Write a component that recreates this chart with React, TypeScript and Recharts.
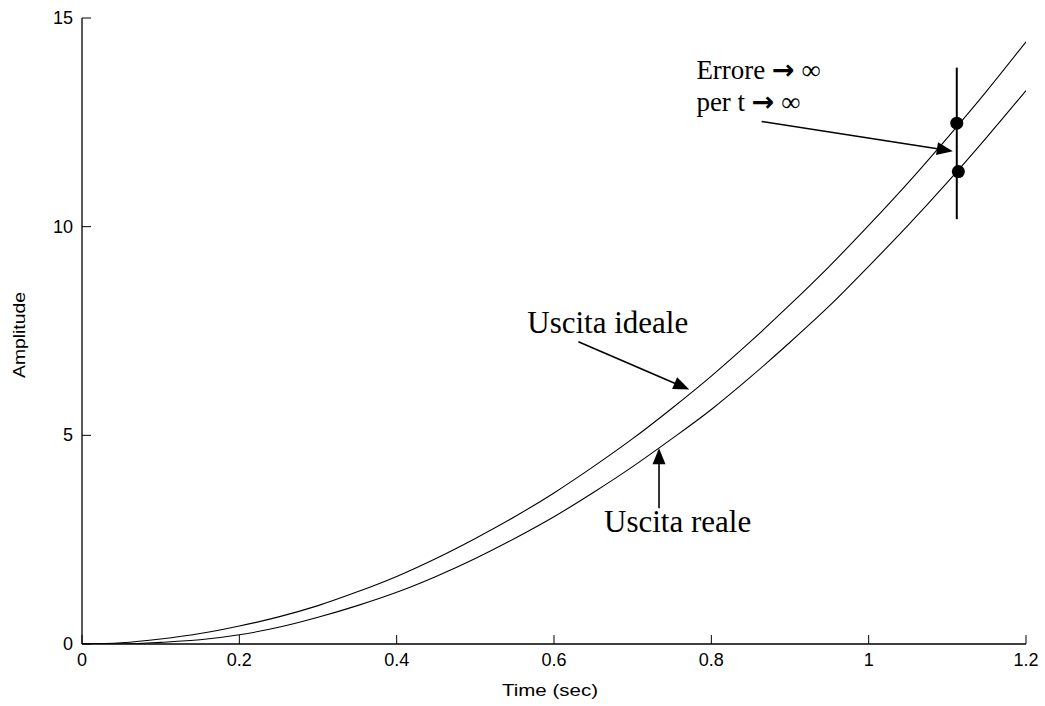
import React from 'react';
import { LineChart, Line, XAxis, YAxis, ReferenceLine, ReferenceDot } from 'recharts';

const times = [0, 0.05, 0.1, 0.15, 0.2, 0.25, 0.3, 0.35, 0.4, 0.45, 0.5, 0.55, 0.6, 0.65, 0.7, 0.75, 0.8, 0.85, 0.9, 0.95, 1.0, 1.05, 1.1, 1.15, 1.2];
const idealOut = [0, 0.03, 0.12, 0.25, 0.43, 0.65, 0.92, 1.25, 1.62, 2.05, 2.53, 3.05, 3.62, 4.25, 4.92, 5.65, 6.42, 7.25, 8.13, 9.05, 10.03, 11.05, 12.13, 13.25, 14.43];
const realOut = [0, 0.0, 0.04, 0.1, 0.22, 0.4, 0.64, 0.92, 1.24, 1.62, 2.05, 2.53, 3.05, 3.63, 4.25, 4.92, 5.62, 6.4, 7.23, 8.1, 9.05, 10.03, 11.06, 12.14, 13.26];

const xTicks = [0, 0.2, 0.4, 0.6, 0.8, 1, 1.2];
const yTicks = [0, 5, 10, 15];

const xLabel = 'Time (sec)';
const yLabel = 'Amplitude';

// annotation anchors (data coordinates)
const errorTime = 1.112;
const errorIdeal = 12.48;
const errorReal = 11.32;
const errorBar = [13.81, 10.18];

const data = times.map((t, i) => ({ t, ideal: idealOut[i], real: realOut[i] }));

const SANS = 'Liberation Sans, Arial, sans-serif';
const SERIF = 'Liberation Serif, Times New Roman, serif';
const TICK = 9;

const BottomTick = (p: any) => (
  <g>
    <line x1={p.x} y1={p.y} x2={p.x} y2={p.y - TICK} stroke="#000" strokeWidth={1} />
    <text x={p.x} y={p.y + 16} textAnchor="middle" dominantBaseline="central" fontFamily={SANS} fontSize={18} fill="#000">
      {String(p.payload.value)}
    </text>
  </g>
);
const TopTick = (p: any) => (
  <line x1={p.x} y1={p.y} x2={p.x} y2={p.y + TICK} stroke="#000" strokeWidth={1} />
);
const LeftTick = (p: any) => (
  <g>
    <line x1={p.x} y1={p.y} x2={p.x + TICK} y2={p.y} stroke="#000" strokeWidth={1} />
    <text x={p.x - 9} y={p.y} textAnchor="end" dominantBaseline="central" fontFamily={SANS} fontSize={18} fill="#000">
      {String(p.payload.value)}
    </text>
  </g>
);
const RightTick = (p: any) => (
  <line x1={p.x} y1={p.y} x2={p.x - TICK} y2={p.y} stroke="#000" strokeWidth={1} />
);

const Arrow = (p: any) => {
  const { x1, y1, x2, y2 } = p;
  const dx = x2 - x1;
  const dy = y2 - y1;
  const len = Math.sqrt(dx * dx + dy * dy) || 1;
  const ux = dx / len;
  const uy = dy / len;
  const hl = 16;
  const hw = 6.5;
  const bx = x2 - ux * hl;
  const by = y2 - uy * hl;
  const pts = `${x2},${y2} ${bx - uy * hw},${by + ux * hw} ${bx + uy * hw},${by - ux * hw}`;
  return (
    <g>
      <line x1={x1} y1={y1} x2={bx + ux * 2} y2={by + uy * 2} stroke="#000" strokeWidth={1.6} />
      <polygon points={pts} fill="#000" />
    </g>
  );
};

const makeText = (content: React.ReactNode, size: number) => (p: any) => (
  <text x={p.cx} y={p.cy} fontFamily={SERIF} fontSize={size} fill="#000" textAnchor="start">
    {content}
  </text>
);

const arrowGlyph = (
  <tspan fontFamily="DejaVu Sans, sans-serif" fontWeight="bold" fontSize={27}>→</tspan>
);

const errText = makeText(
  <>
    <tspan>Errore </tspan>
    {arrowGlyph}
    <tspan> ∞</tspan>
  </>,
  27
);
const perText = makeText(
  <>
    <tspan>per t </tspan>
    {arrowGlyph}
    <tspan> ∞</tspan>
  </>,
  27
);
const idealText = makeText('Uscita ideale', 31);
const realText = makeText('Uscita reale', 31);

export default function App() {
  return (
    <div style={{ position: 'absolute', left: 0, top: 0, width: 1045, height: 706, background: '#fff' }}>
      <LineChart width={1045} height={706} data={data} margin={{ top: 18, right: 19, left: 0, bottom: 0 }}>
        <XAxis
          xAxisId="b"
          dataKey="t"
          type="number"
          domain={[0, 1.2]}
          ticks={xTicks}
          orientation="bottom"
          height={62}
          tickSize={0}
          tickMargin={0}
          tickLine={false}
          tick={<BottomTick />}
          axisLine={{ stroke: '#000', strokeWidth: 1.3 }}
          allowDataOverflow
          interval={0}
          label={{
            content: (lp: any) => {
              const vb = lp.viewBox || { x: 82, y: 644, width: 944, height: 62 };
              return (
                <text x={vb.x + vb.width / 2 - 4} y={vb.y + 46} textAnchor="middle" dominantBaseline="central" fontFamily={SANS} fontSize={17} fill="#000" textLength={96} lengthAdjust="spacingAndGlyphs">
                  {xLabel}
                </text>
              );
            },
          }}
        />
        <XAxis
          xAxisId="t"
          dataKey="t"
          type="number"
          domain={[0, 1.2]}
          ticks={xTicks}
          orientation="top"
          height={0}
          tickSize={0}
          tickMargin={0}
          tickLine={false}
          tick={<TopTick />}
          axisLine={{ stroke: '#000', strokeWidth: 1.3 }}
          allowDataOverflow
          interval={0}
        />
        <YAxis
          yAxisId="l"
          type="number"
          domain={[0, 15]}
          ticks={yTicks}
          orientation="left"
          width={82}
          tickSize={0}
          tickMargin={0}
          tickLine={false}
          tick={<LeftTick />}
          axisLine={{ stroke: '#000', strokeWidth: 1.3 }}
          allowDataOverflow
          interval={0}
          label={{
            content: (lp: any) => {
              const vb = lp.viewBox || { x: 0, y: 18, width: 82, height: 626 };
              const cx = vb.x + 19;
              const cy = vb.y + vb.height / 2 + 4;
              return (
                <text x={cx} y={cy} transform={`rotate(-90, ${cx}, ${cy})`} textAnchor="middle" dominantBaseline="central" fontFamily={SANS} fontSize={16} fill="#000" textLength={86} lengthAdjust="spacingAndGlyphs">
                  {yLabel}
                </text>
              );
            },
          }}
        />
        <YAxis
          yAxisId="r"
          type="number"
          domain={[0, 15]}
          ticks={yTicks}
          orientation="right"
          width={0}
          tickSize={0}
          tickMargin={0}
          tickLine={false}
          tick={<RightTick />}
          axisLine={{ stroke: '#000', strokeWidth: 1.3 }}
          allowDataOverflow
          interval={0}
        />
        <Line xAxisId="b" yAxisId="l" type="monotone" dataKey="ideal" stroke="#000" strokeWidth={1.1} dot={false} isAnimationActive={false} />
        <Line xAxisId="b" yAxisId="l" type="monotone" dataKey="real" stroke="#000" strokeWidth={1.1} dot={false} isAnimationActive={false} />

        <ReferenceLine xAxisId="b" yAxisId="l" segment={[{ x: errorTime, y: errorBar[0] }, { x: errorTime, y: errorBar[1] }]} stroke="#000" strokeWidth={2} />
        <ReferenceDot xAxisId="b" yAxisId="l" x={errorTime} y={errorIdeal} r={6.5} fill="#000" stroke="none" />
        <ReferenceDot xAxisId="b" yAxisId="l" x={errorTime + 0.002} y={errorReal} r={6.5} fill="#000" stroke="none" />

        <ReferenceLine xAxisId="b" yAxisId="l" segment={[{ x: 0.631, y: 7.24 }, { x: 0.772, y: 6.1 }]} shape={Arrow} />
        <ReferenceLine xAxisId="b" yAxisId="l" segment={[{ x: 0.7335, y: 3.25 }, { x: 0.7335, y: 4.69 }]} shape={Arrow} />
        <ReferenceLine xAxisId="b" yAxisId="l" segment={[{ x: 0.864, y: 12.52 }, { x: 1.107, y: 11.81 }]} shape={Arrow} />

        <ReferenceDot xAxisId="b" yAxisId="l" x={0.566} y={7.45} r={0} shape={idealText} />
        <ReferenceDot xAxisId="b" yAxisId="l" x={0.6636} y={2.69} r={0} shape={realText} />
        <ReferenceDot xAxisId="b" yAxisId="l" x={0.781} y={13.54} r={0} shape={errText} />
        <ReferenceDot xAxisId="b" yAxisId="l" x={0.781} y={12.76} r={0} shape={perText} />
      </LineChart>
    </div>
  );
}
